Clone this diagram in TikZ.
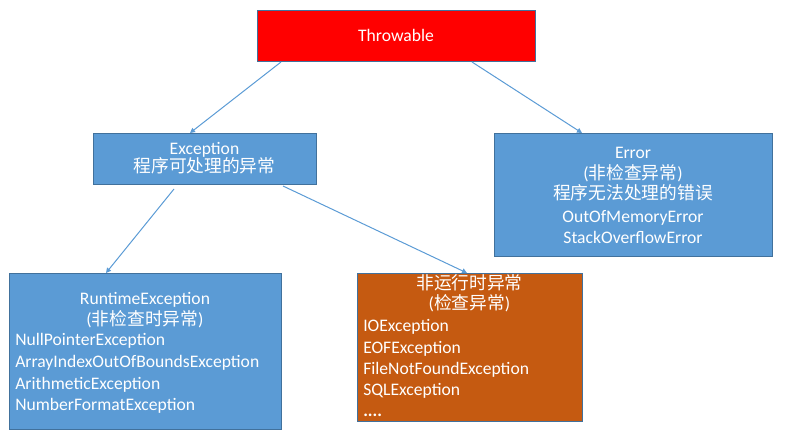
\documentclass[tikz,border=0pt]{standalone}
\usepackage{fontspec}
\setmainfont{Carlito}
\newfontfamily\cjk{Noto Sans CJK SC}
\usetikzlibrary{arrows.meta,calc}
\definecolor{boxblue}{HTML}{5B9BD5}
\definecolor{edgeblue}{HTML}{41719C}
\definecolor{boxorange}{HTML}{C55A11}
\definecolor{arrblue}{HTML}{5B9BD5}
\newdimen\pxu \pxu=0.75pt
\newcommand\zh[1]{{\cjk\fontsize{13.3}{16}\selectfont #1}}
\tikzset{
  box/.style={draw=edgeblue, line width=0.75pt, inner sep=0pt, anchor=north west},
  txt/.style={text=white, inner sep=0pt, anchor=base, font=\fontsize{13.2}{15}\selectfont},
  ltxt/.style={txt, anchor=base west},
  arr/.style={draw=arrblue, line width=0.75pt, -{Triangle[length=3.75pt,width=3.75pt]}}
}
\begin{document}
\begin{tikzpicture}[x=0.75pt,y=-0.75pt]
\useasboundingbox (0,0) rectangle (806,445);
% boxes
\node[box, fill=red, minimum width=278\pxu, minimum height=51\pxu] (thr) at (257,10) {};
\node[box, fill=boxblue, minimum width=223\pxu, minimum height=51\pxu] (exc) at (93,133) {};
\node[box, fill=boxblue, minimum width=278\pxu, minimum height=123\pxu] (err) at (494,133) {};
\node[box, fill=boxblue, minimum width=272\pxu, minimum height=156\pxu] (rt) at (9,273) {};
\node[box, fill=boxorange, minimum width=225\pxu, minimum height=148\pxu] (nrt) at (357,273) {};
% texts
\node[txt] (t1) at (396,41.5) {Throwable};
\node[txt] (e1) at (204.5,154.5) {Exception};
\node[txt] (e2) at (204.5,173) {\zh{程序可处理的异常}};
\node[txt] (r1) at (633,158.5) {Error};
\node[txt] (r2) at (633,180) {(\zh{非检查异常})};
\node[txt] (r3) at (633,200) {\zh{程序无法处理的错误}};
\node[txt] (r4) at (633,222.5) {OutOfMemoryError};
\node[txt] (r5) at (633,243.5) {StackOverflowError};
\node[txt] (u1) at (145,304.5) {RuntimeException};
\node[txt] (u2) at (145,325) {(\zh{非检查时异常})};
\node[ltxt] (u3) at (15,345.5) {NullPointerException};
\node[ltxt] (u4) at (15,367.5) {ArrayIndexOutOfBoundsException};
\node[ltxt] (u5) at (15,389) {ArithmeticException};
\node[ltxt] (u6) at (15,410.5) {NumberFormatException};
\node[txt] (n1) at (469.5,289) {\zh{非运行时异常}};
\node[txt] (n2) at (469.5,309) {(\zh{检查异常})};
\node[ltxt] (n3) at (363,331.5) {IOException};
\node[ltxt] (n4) at (363,353) {EOFException};
\node[ltxt] (n5) at (363,374.5) {FileNotFoundException};
\node[ltxt] (n6) at (363,395.5) {SQLException};
\node[ltxt] (n7) at (363,416) {\textbf{....}};
% arrows
\draw[arr] ($(thr.south west)+(24,0)$) -- ($(exc.north west)+(97,0)$);
\draw[arr] ($(thr.south west)+(215,0)$) -- ($(err.north west)+(88,0)$);
\draw[arr] ($(exc.south west)+(81,4)$) -- ($(rt.north west)+(97,0)$);
\draw[arr] ($(exc.south west)+(190,1)$) -- ($(nrt.north west)+(110,0)$);
\end{tikzpicture}
\end{document}
